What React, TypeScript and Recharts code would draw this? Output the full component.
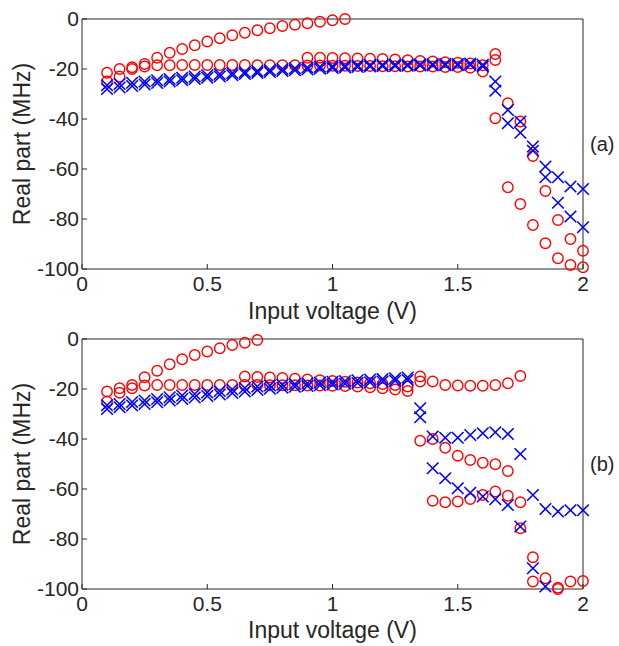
import { Scatter, ScatterChart, XAxis, YAxis } from "recharts"

const _ = null

const volts = [
  0.1, 0.15, 0.2, 0.25, 0.3, 0.35, 0.4, 0.45, 0.5, 0.55, 0.6, 0.65, 0.7,
  0.75, 0.8, 0.85, 0.9, 0.95, 1.0, 1.05, 1.1, 1.15, 1.2, 1.25, 1.3, 1.35,
  1.4, 1.45, 1.5, 1.55, 1.6, 1.65, 1.7, 1.75, 1.8, 1.85, 1.9, 1.95, 2.0,
]
const xTicks = [0, 0.5, 1, 1.5, 2]
const yTicks = [-100, -80, -60, -40, -20, 0]

// panel (a)
const aRedUpper = [
  -21.5, -20, -19.3, -18, -15.5, -13.5, -12, -10.5, -9, -7.7, -6.5, -5.5, -4.5,
  -3.7, -2.8, -2.3, -1.7, -1.1, -0.5, 0, _, _, _, _, _, _,
  _, _, _, _, _, -14, _, _, _, _, _, _, _,
]
const aRedLower = [
  -25, -23, -20, -19, -18.5, -18.5, -18.4, -18.4, -18.4, -18.4, -18.4, -18.4, -18.5,
  -18.5, -18.5, -18.5, -18.6, -18.6, -18.7, -18.7, -18.8, -18.8, -18.9, -18.9, -19, -19,
  -19, -19.2, -19.2, -19.5, -21, -39.7, -33.7, -41, -54.8, -68.8, -80.4, -88, -92.7,
]
const aRedMid = [
  _, _, _, _, _, _, _, _, _, _, _, _, _,
  _, _, _, -15.5, -15.5, -15.6, -15.7, -15.8, -15.9, -16, -16.2, -16.5, -16.8,
  -17, -17.3, -17.5, -17.8, -18.5, -16.4, -67.3, -74, -82.4, -89.7, -95.7, -98.4, -99.3,
]
const aBlueA = [
  -26.5, -26, -25.5, -25, -24.5, -24, -23.5, -23, -22.5, -22, -21.6, -21.2, -20.8,
  -20.4, -20, -19.7, -19.4, -19.1, -18.9, -18.7, -18.5, -18.4, -18.3, -18.2, -18.2, -18.1,
  -18.1, -18, -18, -17.8, -18.3, -25, -36.4, -41, -51, -59, -63.3, -67, -68,
]
const aBlueB = [
  -28, -27.4, -26.8, -26.2, -25.6, -25, -24.5, -24, -23.5, -23, -22.5, -22, -21.6,
  -21.2, -20.8, -20.5, -20.2, -19.9, -19.6, -19.4, -19.2, -19, -18.9, -18.8, -18.7, -18.6,
  -18.6, -18.5, -18.5, -18.4, -19, -28.7, -41.7, -45.5, -52.7, -63.3, -73.5, -79, -83.3,
]

// panel (b)
const bRedUpper = [
  -21, -19.7, -18.4, -15.3, -12.7, -10.1, -8.1, -6.4, -5, -3.7, -2.4, -1.5, -0.4,
  _, _, _, _, _, _, _, _, _, _, _, _, _,
  _, _, _, _, _, _, _, _, _, _, _, _, _,
]
const bRedLower = [
  -25, -21.5, -19.7, -18.6, -18.4, -18.4, -18.4, -18.4, -18.4, -18.4, -18.4, -18.4, -18.4,
  -18.5, -18.5, -18.5, -18.6, -18.6, -18.7, -18.8, -19, -19.3, -19.7, -20.2, -20.8, -40.7,
  -64.7, -65.3, -65, -64, -62.4, -61, -62.7, -75.7, -97, -95.7, -100, -97, -96.8,
]
const bRedMid = [
  _, _, _, _, _, _, _, _, _, _, _, -15, -15.2,
  -15.4, -15.6, -15.9, -16.2, -16.5, -16.8, -17.1, -17.4, -17.7, -18, -18.4, -19, -15,
  -40, -43.5, -46.7, -48.4, -49.5, -50.1, -52.8, -65.3, -87.3, _, -99.5, _, _,
]
const bRedTop = [
  _, _, _, _, _, _, _, _, _, _, _, _, _,
  _, _, _, _, _, _, _, _, _, _, _, _, -17,
  -17, -18.4, -18.6, -18.7, -18.7, -18.4, -17.7, -14.8, _, _, _, _, _,
]
const bBlueA = [
  -26.5, -26, -25.2, -24.6, -24, -23.3, -22.6, -22, -21.4, -20.8, -20.2, -19.6, -19,
  -18.6, -18.3, -18, -17.7, -17.4, -17.1, -16.8, -16.5, -16.2, -16, -15.7, -15.4, -27.7,
  -39, -39.5, -39.5, -38.4, -37.7, -37.3, -38, -46, -62.4, -68, -69, -68.5, -68.5,
]
const bBlueB = [
  -28, -27.3, -26.6, -26, -25.3, -24.6, -24, -23.4, -22.8, -22.2, -21.6, -21, -20.4,
  -19.9, -19.5, -19.1, -18.8, -18.5, -18.2, -17.9, -17.6, -17.3, -17, -16.7, -16.4, -31.3,
  -51.7, -55.7, -59.7, -61.5, -63, -64.1, -66.4, -75, -91.7, -99, _, _, _,
]

const font = "'Liberation Sans', Arial, sans-serif"
const ink = "#262626"

const points = (ys: (number | null)[]) =>
  ys.flatMap((y, i) => (y == null ? [] : [{ x: volts[i], y }]))

const Circle = (p: any) => (
  <circle cx={p.cx} cy={p.cy} r={5.2} fill="none" stroke="#ff0000" strokeWidth={1.4} />
)

const Cross = (p: any) => {
  const s = 5.8
  return (
    <path
      d={`M${p.cx - s},${p.cy - s}L${p.cx + s},${p.cy + s}M${p.cx - s},${p.cy + s}L${p.cx + s},${p.cy - s}`}
      stroke="#0000ff"
      strokeWidth={1.6}
      fill="none"
    />
  )
}

function Panel({ reds, blues, tag, height, top, axisHeight, labelOffset }: any) {
  const tick = { fill: ink, fontSize: 21, fontFamily: font }
  return (
    <ScatterChart width={619} height={height} margin={{ top, right: 35, bottom: 0, left: 0 }}>
      <XAxis
        type="number"
        dataKey="x"
        domain={[0, 2]}
        ticks={xTicks}
        interval={0}
        height={axisHeight}
        tick={tick}
        tickSize={-5}
        tickMargin={12}
        axisLine={{ stroke: ink }}
        tickLine={{ stroke: ink }}
        label={{ value: "Input voltage (V)", position: "insideBottom", offset: labelOffset, fill: ink, fontSize: 23, fontFamily: font }}
      />
      <XAxis
        xAxisId="top"
        orientation="top"
        type="number"
        dataKey="x"
        domain={[0, 2]}
        ticks={xTicks}
        height={1}
        tick={false}
        tickSize={-5}
        axisLine={{ stroke: ink }}
        tickLine={{ stroke: ink }}
      />
      <YAxis
        type="number"
        dataKey="y"
        domain={[-100, 0]}
        ticks={yTicks}
        interval={0}
        width={82}
        tick={tick}
        tickSize={-5}
        tickMargin={8}
        axisLine={{ stroke: ink }}
        tickLine={{ stroke: ink }}
        label={{ value: "Real part (MHz)", angle: -90, position: "center", dx: -19, fill: ink, fontSize: 23, fontFamily: font }}
      />
      <YAxis
        yAxisId="right"
        orientation="right"
        type="number"
        dataKey="y"
        domain={[-100, 0]}
        ticks={yTicks}
        width={1}
        tick={false}
        tickSize={-5}
        axisLine={{ stroke: ink }}
        tickLine={{ stroke: ink }}
        label={{ value: tag, position: "right", offset: 6, fill: ink, fontSize: 20, fontFamily: font }}
      />
      {reds.map((ys: any, i: number) => (
        <Scatter key={"r" + i} data={points(ys)} shape={Circle} isAnimationActive={false} />
      ))}
      {blues.map((ys: any, i: number) => (
        <Scatter key={"b" + i} data={points(ys)} shape={Cross} isAnimationActive={false} />
      ))}
    </ScatterChart>
  )
}

export default function App() {
  return (
    <div style={{ position: "absolute", top: 0, left: 0, width: 619, height: 646, background: "#fff", fontFamily: font }}>
      <div style={{ position: "absolute", top: 0, left: 0 }}>
        <Panel
          reds={[aRedUpper, aRedLower, aRedMid]}
          blues={[aBlueA, aBlueB]}
          tag="(a)"
          height={330}
          top={18}
          axisHeight={61}
          labelOffset={11}
        />
      </div>
      <div style={{ position: "absolute", top: 320, left: 0 }}>
        <Panel
          reds={[bRedUpper, bRedLower, bRedMid, bRedTop]}
          blues={[bBlueA, bBlueB]}
          tag="(b)"
          height={326}
          top={18}
          axisHeight={57}
          labelOffset={8}
        />
      </div>
    </div>
  )
}
